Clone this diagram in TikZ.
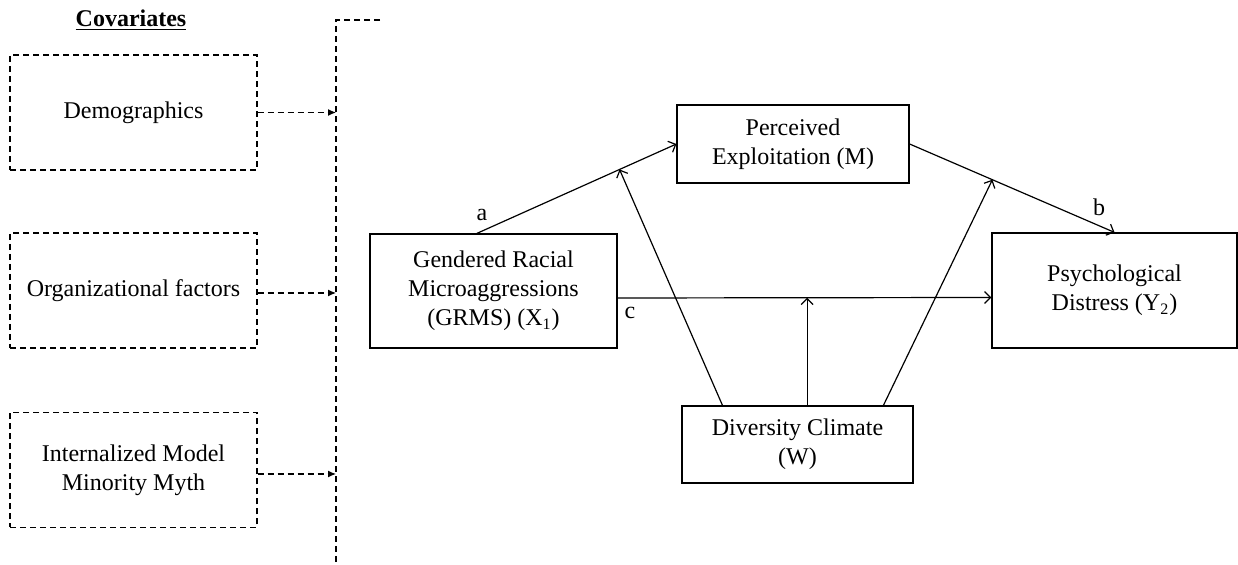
\documentclass[tikz,border=0pt]{standalone}
\usepackage{fontspec}
\setmainfont{Liberation Serif}
\usetikzlibrary{arrows.meta,calc}

\begin{document}
\begin{tikzpicture}[x=0.5pt,y=-0.5pt]

    \tikzset{
      VarBox/.style = { rectangle, draw, line width=0.6pt, align=center,
                        font=\fontsize{12}{14.5}\selectfont, inner sep=0pt },
      CovBox/.style = { VarBox, dash pattern=on 3pt off 2pt,
                        minimum width=123.5pt, minimum height=57.5pt },
      PathArrow/.style = { line width=0.6pt, -{Straight Barb[length=3pt,width=6pt]} },
      CovArrow/.style = { line width=0.6pt, dash pattern=on 3pt off 2pt,
                          -{Latex[length=4pt,width=3.5pt]} },
      PathLabel/.style = { font=\fontsize{12}{14}\selectfont, inner sep=0pt } }

      \useasboundingbox (0,0) rectangle (1238,565);

      \node[font=\fontsize{12}{14}\selectfont\bfseries, inner sep=0pt] (cov) at (131,20)
        {\underline{Covariates}};

      \node[CovBox] (demo) at (133.5,112.5) {Demographics};
      \node[CovBox] (org) at (133.5,290.5) {Organizational factors};
      \node[CovBox] (imm) at (133.5,470) {Internalized Model\\Minority Myth};

      \coordinate (brtop) at (336,20);
      \coordinate (brbot) at (336,565);
      \coordinate (brend) at (380,20);
      \draw[line width=0.6pt, dash pattern=on 3pt off 2pt] (brend) -- (brtop) -- (brbot);

      \draw[CovArrow] (demo.east) -- (demo.east -| brtop);
      \draw[CovArrow] ([yshift=-1.25pt]org.east) -- ([yshift=-1.25pt]org.east -| brtop);
      \draw[CovArrow] ([yshift=-2pt]imm.east) -- ([yshift=-2pt]imm.east -| brtop);

      \node[VarBox, minimum width=123.5pt, minimum height=57pt] (X) at (493.5,291)
        {Gendered Racial\\Microaggressions\\(GRMS) (X\textsubscript{1})};
      \node[VarBox, minimum width=116pt, minimum height=39pt] (M) at (793,144)
        {Perceived\\Exploitation (M)};
      \node[VarBox, minimum width=122.5pt, minimum height=57.5pt] (Y) at (1114.5,290.5)
        {Psychological\\Distress (Y\textsubscript{2})};
      \node[VarBox, minimum width=115.5pt, minimum height=38.5pt] (W) at (797.5,444.5)
        {Diversity Climate\\(W)};

      \draw[PathArrow] ($(X.north west)!0.433!(X.north east)$) -- (M.west)
        coordinate[pos=0.715] (am);
      \draw[PathArrow] (M.east) -- (Y.north) coordinate[pos=0.404] (bm);
      \draw[PathArrow] ([yshift=-3.5pt]X.east) -- ([yshift=-3.5pt]Y.west)
        coordinate[pos=0.507] (cm);

      \draw[PathArrow] ($(W.north west)!0.177!(W.north east)$) -- (am);
      \draw[PathArrow] (cm |- W.north) -- (cm);
      \draw[PathArrow] ($(W.north west)!0.87!(W.north east)$) -- (bm);

      \node[PathLabel] (la) at (482,215) {a};
      \node[PathLabel] (lb) at (1099,207) {b};
      \node[PathLabel] (lc) at (630,313) {c};

    \end{tikzpicture}
\end{document}
